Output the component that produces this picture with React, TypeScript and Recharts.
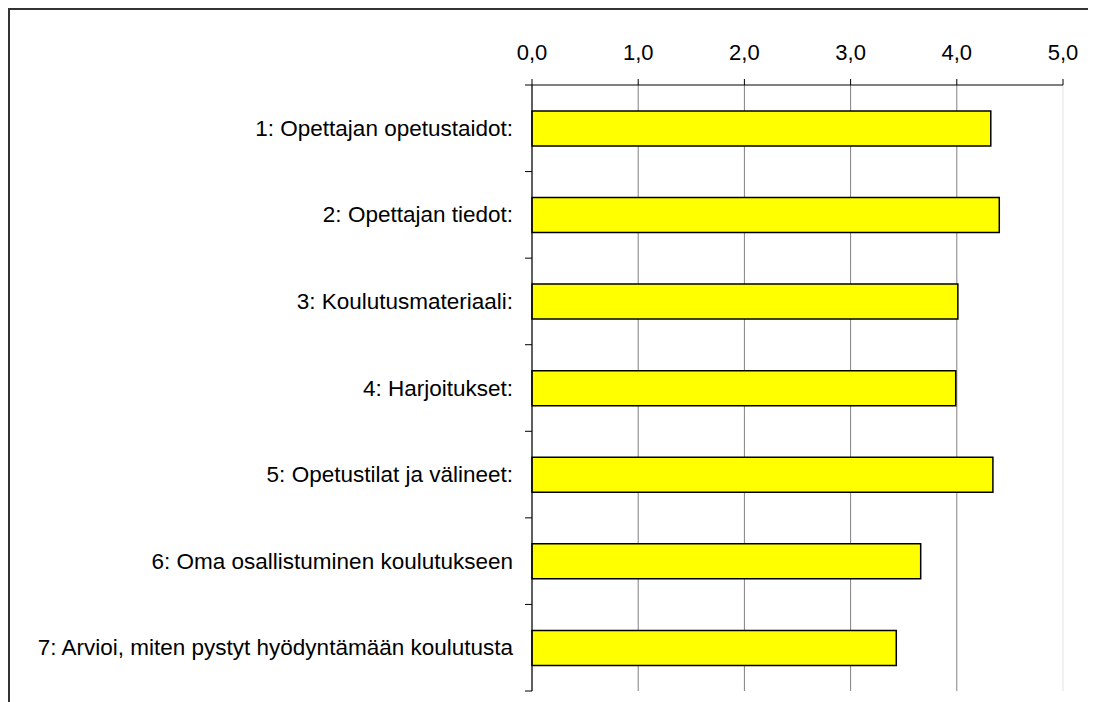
import { BarChart, Bar, XAxis, YAxis, CartesianGrid } from 'recharts';

const categories = [
  '1: Opettajan opetustaidot:',
  '2: Opettajan tiedot:',
  '3: Koulutusmateriaali:',
  '4: Harjoitukset:',
  '5: Opetustilat ja välineet:',
  '6: Oma osallistuminen koulutukseen',
  '7: Arvioi, miten pystyt hyödyntämään koulutusta',
];
const scores = [4.32, 4.4, 4.01, 3.99, 4.34, 3.66, 3.43];
const xTicks = [0, 1, 2, 3, 4, 5];

const data = categories.map((name, i) => ({ name, score: scores[i] }));

const W = 1086;
const H = 692;
const AXIS_H = 75;
const BOTTOM = 11;
const RIGHT = 33;
const LABEL_W = 522;
const BAND = (H - AXIS_H - BOTTOM) / categories.length;
const FONT = '"Liberation Sans", Arial, sans-serif';
const GAP = 19;

function CategoryTick(props: any) {
  const { x, y, payload, index } = props;
  const axisX = x + GAP;
  return (
    <g>
      <text
        x={x}
        y={y}
        textAnchor="end"
        dominantBaseline="central"
        fontSize={22.5}
        fontFamily={FONT}
        fill="#000"
      >
        {payload.value}
      </text>
      {index === 0 && (
        <line x1={axisX - 7} x2={axisX} y1={y - BAND / 2} y2={y - BAND / 2} stroke="#000" />
      )}
      <line x1={axisX - 7} x2={axisX} y1={y + BAND / 2} y2={y + BAND / 2} stroke="#000" />
    </g>
  );
}

function GridLine(props: any) {
  const { x1, x2, y1, y2 } = props;
  const last = Math.abs(x1 - (W - RIGHT)) < 1;
  return <line x1={x1} x2={x2} y1={y1} y2={y2} stroke={last ? '#e2e2e2' : '#808080'} strokeWidth={1} />;
}

export default function App() {
  return (
    <div
      style={{
        width: 1088,
        height: 694,
        borderTop: '2px solid #333',
        borderLeft: '2px solid #333',
        boxSizing: 'border-box',
        background: '#fff',
      }}
    >
      <BarChart
        width={W}
        height={H}
        data={data}
        layout="vertical"
        barCategoryGap="30%"
        margin={{ top: 0, right: RIGHT, bottom: BOTTOM, left: 0 }}
      >
        <CartesianGrid horizontal={false} vertical={GridLine} />
        <XAxis
          type="number"
          orientation="top"
          domain={[0, 5]}
          ticks={xTicks}
          height={AXIS_H}
          tickSize={6}
          tickMargin={19}
          tickFormatter={(v: number) => v.toFixed(1).replace('.', ',')}
          tick={{ fontSize: 22, fill: '#000', fontFamily: FONT }}
          axisLine={{ stroke: '#000' }}
          tickLine={{ stroke: '#000' }}
        />
        <YAxis
          type="category"
          dataKey="name"
          width={LABEL_W}
          interval={0}
          tickLine={false}
          tickSize={0}
          tickMargin={GAP}
          axisLine={{ stroke: '#000' }}
          tick={CategoryTick}
        />
        <Bar dataKey="score" fill="#FFFF00" stroke="#000" strokeWidth={1.5} isAnimationActive={false} />
      </BarChart>
    </div>
  );
}
